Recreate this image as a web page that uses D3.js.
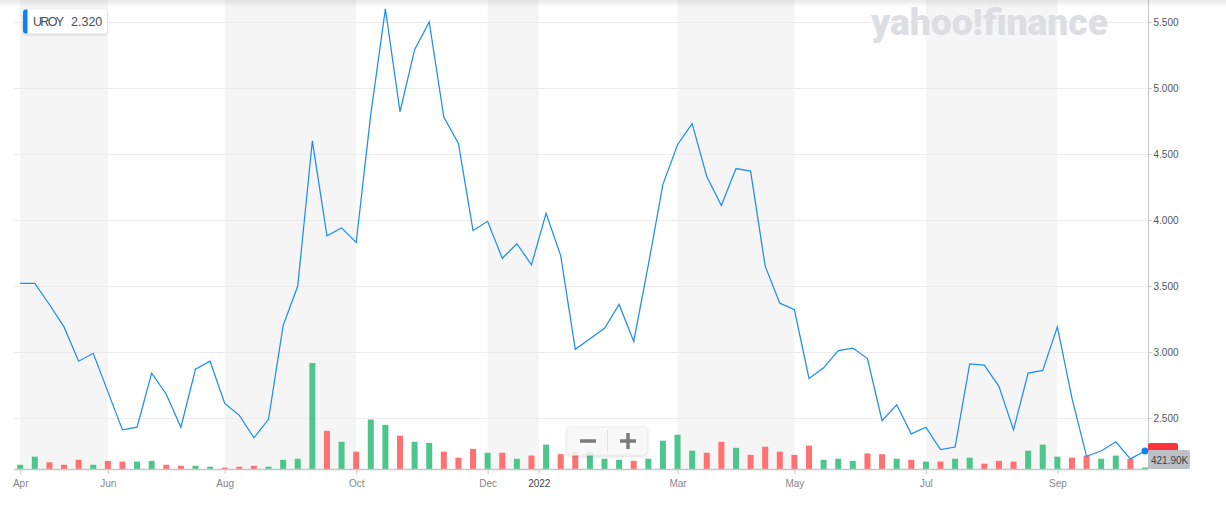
<!DOCTYPE html>
<html>
<head>
<meta charset="utf-8">
<script src="https://cdn.jsdelivr.net/npm/d3@7/dist/d3.min.js"></script>
<style>
body{margin:0;background:#fff;}
text{font-family:"Liberation Sans",Arial,sans-serif;}
</style>
</head>
<body>
<div id="viz-container"></div>
<script>
// weekly closes, Apr 2021 -> Sep 2022
let closes=[3.52,3.52,3.36,3.19,2.93,2.99,2.70,2.41,2.43,2.84,
  2.68,2.43,2.87,2.93,2.61,2.52,2.35,2.49,3.20,3.50,
  4.60,3.88,3.94,3.83,4.80,5.60,4.82,5.29,5.50,4.78,
  4.58,3.92,3.99,3.71,3.82,3.66,4.05,3.73,3.02,3.10,
  3.18,3.36,3.08,3.66,4.27,4.57,4.73,4.33,4.11,4.39,
  4.37,3.65,3.37,3.32,2.80,2.88,3.01,3.03,2.95,2.48,
  2.60,2.38,2.43,2.26,2.28,2.91,2.90,2.74,2.41,2.84,
  2.86,3.19,2.65,2.21,2.25,2.32,2.19,2.25];
// weekly volume, millions
let volumes=[1.2,3.5,1.9,1.2,2.6,1.2,2.3,2.1,2.1,2.3,
  1.2,0.9,0.9,0.65,0.4,0.65,0.9,0.65,2.6,2.9,
  30,10.8,7.7,4.9,14.0,12.5,9.4,7.7,7.4,4.9,
  3.2,5.7,4.6,4.6,2.9,3.8,6.9,4.2,4.9,4.9,
  2.9,2.6,2.3,2.9,8.0,9.7,5.2,4.6,7.7,6.0,
  4.0,6.3,4.9,4.0,6.6,2.6,2.9,2.3,4.4,4.2,
  2.9,2.6,2.1,2.1,2.9,3.2,1.5,2.3,2.1,5.2,
  6.9,3.5,3.2,3.8,2.9,3.8,2.9,0.42];
let tickIdx=[0,6,14,23,32,35.5,45,53,62,71];
let tickLabels=["Apr","Jun","Aug","Oct","Dec","2022","Mar","May","Jul","Sep"];
let priceTicks=[2.5,3,3.5,4,4.5,5,5.5];
let symbol="UROY";
let quote="2.320";
let lastVolume="421.90K";

let W=1226,H=506;
let left=14,right=1148.5,bottom=469;

let viz=d3.select("#viz-container")
  .append("svg")
    .attr("width",W)
    .attr("height",H);

let x=d3.scaleLinear().domain([0,closes.length-1]).range([20.2,1145]);
let y=d3.scaleLinear().domain([2.5,5.5]).range([418,22]);
let yVol=d3.scaleLinear().domain([0,30]).range([bottom,363]);

let defs=viz.append("defs");
let grad=defs.append("linearGradient").attr("id","topShade").attr("x1",0).attr("x2",0).attr("y1",0).attr("y2",1);
grad.append("stop").attr("offset","0%").attr("stop-color","#000").attr("stop-opacity",0.09);
grad.append("stop").attr("offset","100%").attr("stop-color","#000").attr("stop-opacity",0);
let sh=defs.append("filter").attr("id","shadow").attr("x","-20%").attr("y","-30%").attr("width","140%").attr("height","160%");
sh.append("feDropShadow").attr("dx",0).attr("dy",1).attr("stdDeviation",1.5).attr("flood-opacity",0.18);

// alternating month bands
let bands=[];
for(let i=0;i+1<tickIdx.length;i+=2) bands.push([tickIdx[i],tickIdx[i+1]]);
viz.selectAll(".band").data(bands).enter()
  .append("rect")
  .attr("class","band")
  .attr("x",d=>x(d[0]))
  .attr("y",0)
  .attr("width",d=>x(d[1])-x(d[0]))
  .attr("height",bottom)
  .attr("fill","#f5f5f5");

viz.selectAll(".grid").data(priceTicks).enter()
  .append("line")
  .attr("class","grid")
  .attr("x1",left).attr("x2",right)
  .attr("y1",d=>Math.round(y(d))+0.5).attr("y2",d=>Math.round(y(d))+0.5)
  .attr("stroke","#ececec");

// watermark
viz.append("text")
  .attr("x",871).attr("y",35)
  .attr("textLength",237).attr("lengthAdjust","spacingAndGlyphs")
  .style("font-family","Roboto,sans-serif")
  .style("font-weight","900")
  .style("font-size","36px")
  .attr("fill","#dcdee2")
  .text("yahoo!finance");

// volume
viz.selectAll(".vol").data(volumes).enter()
  .append("rect")
  .attr("class","vol")
  .attr("x",(d,i)=>x(i)-3)
  .attr("y",d=>yVol(d))
  .attr("width",6)
  .attr("height",d=>bottom-yVol(d))
  .attr("fill",(d,i)=>(i==0||closes[i]>=closes[i-1])?"#4dc68e":"#ff7171");

// price line
let line=d3.line().x((d,i)=>x(i)).y(d=>y(d));
viz.append("path")
  .datum(closes)
  .attr("d",line)
  .attr("fill","none")
  .attr("stroke","#1f8ef1")
  .attr("stroke-width",1.25)
  .attr("stroke-linejoin","miter");

// axes
let xAxis=viz.append("g")
  .attr("transform","translate(0,"+bottom+")")
  .call(d3.axisBottom(x).tickValues(tickIdx).tickSize(5).tickPadding(6).tickFormat((d,i)=>tickLabels[i]));
xAxis.select(".domain").remove();
xAxis.selectAll("line").attr("stroke","#c4c7cb");
xAxis.selectAll("text").style("font-size","10px").attr("fill",(d,i)=>tickLabels[i]=="2022"?"#3f454b":"#83888d");

let yAxis=viz.append("g")
  .attr("transform","translate("+right+",0)")
  .call(d3.axisRight(y).tickValues(priceTicks).tickSize(3).tickPadding(2).tickFormat(d3.format(".3f")));
yAxis.select(".domain").remove();
yAxis.selectAll("line").attr("stroke","#c4c7cb");
yAxis.selectAll("text").style("font-size","10px").attr("fill","#50565c");

viz.append("line").attr("x1",left).attr("x2",right).attr("y1",bottom+0.5).attr("y2",bottom+0.5).attr("stroke","#c4c7cb").attr("stroke-width",1.5);
viz.append("line").attr("x1",right).attr("x2",right).attr("y1",0).attr("y2",bottom).attr("stroke","#c4c7cb");

// top shade
viz.append("rect").attr("x",0).attr("y",0).attr("width",W).attr("height",7).attr("fill","url(#topShade)");

// last point marker + labels
let n=closes.length-1;
viz.append("circle").attr("cx",x(n)).attr("cy",y(closes[n])).attr("r",3.5).attr("fill","#0a84f0");
viz.append("rect").attr("x",1148).attr("y",443).attr("width",30).attr("height",16).attr("rx",2).attr("fill","#ff333a");
viz.append("rect").attr("x",1148).attr("y",450).attr("width",42).attr("height",19).attr("rx",2).attr("fill","#bdc1c7");
viz.append("text").attr("x",1151).attr("y",463.5).style("font-size","10px").attr("fill","#3b4046").text(lastVolume);

// zoom buttons
let zb=viz.append("g");
zb.append("rect").attr("x",567).attr("y",427).attr("width",80).attr("height",28).attr("rx",4)
  .attr("fill","rgba(250,250,250,0.85)").attr("stroke","#ededed").attr("filter","url(#shadow)");
zb.append("line").attr("x1",607.5).attr("x2",607.5).attr("y1",430).attr("y2",452).attr("stroke","#e2e2e2");
zb.append("line").attr("x1",580).attr("x2",596).attr("y1",441).attr("y2",441).attr("stroke","#7b7b7b").attr("stroke-width",3.5);
zb.append("line").attr("x1",620).attr("x2",636).attr("y1",441).attr("y2",441).attr("stroke","#7b7b7b").attr("stroke-width",3.5);
zb.append("line").attr("x1",628).attr("x2",628).attr("y1",433).attr("y2",449).attr("stroke","#7b7b7b").attr("stroke-width",3.5);

// symbol box
let tb=viz.append("g");
tb.append("rect").attr("x",23).attr("y",9.5).attr("width",84).attr("height",24).attr("rx",3).attr("fill","#fff").attr("filter","url(#shadow)");
tb.append("path").attr("d","M27.5,9.5 L26,9.5 Q23,9.5 23,12.5 L23,30.5 Q23,33.5 26,33.5 L27.5,33.5 Z").attr("fill","#0a84f0");
tb.append("text").attr("x",33).attr("y",26).attr("textLength",31).style("font-size","12.5px").attr("fill","#464e56").text(symbol);
tb.append("text").attr("x",71).attr("y",26).style("font-size","12.5px").attr("fill","#464e56").text(quote);
</script>
</body>
</html>
